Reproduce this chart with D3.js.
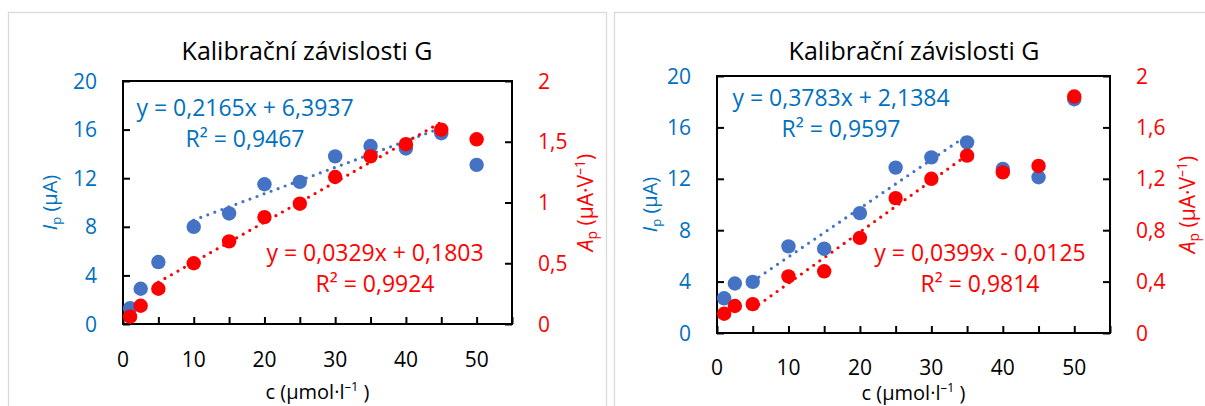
<!DOCTYPE html>
<html><head><meta charset="utf-8">
<script src="https://cdn.jsdelivr.net/npm/d3@7"></script>
<style>
body{margin:0;background:#fff;}
svg{display:block;font-family:"Open Sans",sans-serif;}
</style></head>
<body><svg id="c" width="1205" height="406"></svg>
<script>
// ---- data ----
const concentrations = [1, 2.5, 5, 10, 15, 20, 25, 30, 35, 40, 45, 50];
const ipLeft  = [1.3, 2.9, 5.1, 8.0, 9.1, 11.5, 11.7, 13.8, 14.65, 14.45, 15.7, 13.1];
const apLeft  = [0.06, 0.15, 0.29, 0.50, 0.68, 0.88, 0.99, 1.21, 1.38, 1.48, 1.60, 1.52];
const ipRight = [2.7, 3.85, 3.98, 6.74, 6.56, 9.33, 12.87, 13.67, 14.83, 12.77, 12.12, 18.19];
const apRight = [0.15, 0.21, 0.225, 0.44, 0.48, 0.74, 1.05, 1.20, 1.38, 1.25, 1.30, 1.84];

const xTickValues = [0, 5, 10, 15, 20, 25, 30, 35, 40, 45, 50, 55];
const xTickLabels = ["0", "", "10", "", "20", "", "30", "", "40", "", "50", ""];
const ipTicks = [0, 4, 8, 12, 16, 20];
const apTicksLeft = [0, 0.5, 1, 1.5, 2];
const apTicksRight = [0, 0.4, 0.8, 1.2, 1.6, 2];

// trendline: [slope, intercept, xFrom, xTo]
const ipTrendLeft  = [0.2165, 6.3937, 10, 45];
const apTrendLeft  = [0.0329, 0.1803, 5, 45];
const ipTrendRight = [0.3783, 2.1384, 5, 35];
const apTrendRight = [0.0399, -0.0125, 5, 35];

const ipEqLeft  = ["y = 0,2165x + 6,3937", "R² = 0,9467"];
const apEqLeft  = ["y = 0,0329x + 0,1803", "R² = 0,9924"];
const ipEqRight = ["y = 0,3783x + 2,1384", "R² = 0,9597"];
const apEqRight = ["y = 0,0399x - 0,0125", "R² = 0,9814"];

const titleText = "Kalibrační závislosti G";

// ---- styles ----
const BLUE = "#4472C4", BLUE_TXT = "#0070C0", RED = "#FF0000";
const svg = d3.select("#c");
const fmt = v => String(v).replace(".", ",");

function drawPanel(o) {
  svg.append("rect").attr("x", o.panel[0] + 0.5).attr("y", o.panel[1] + 0.5)
    .attr("width", o.panel[2]).attr("height", o.panel[3])
    .attr("fill", "#fff").attr("stroke", "#D9D9D9").attr("stroke-width", 1.3);

  const x = d3.scaleLinear().domain([0, 55]).range([o.L, o.R]);
  const yL = d3.scaleLinear().domain([0, 20]).range([o.B, o.T]);
  const yR = d3.scaleLinear().domain([0, 2]).range([o.B, o.T]);
  const g = svg.append("g");

  // title
  g.append("text").attr("x", o.panel[0] + o.panel[2] / 2).attr("y", o.titleY)
    .attr("text-anchor", "middle").attr("font-size", 25).attr("fill", "#000").text(titleText);

  // axes (ticks inward)
  const axB = d3.axisTop(x).tickValues(xTickValues).tickSize(7).tickFormat("");
  const axL = d3.axisRight(yL).tickValues(ipTicks).tickSize(7).tickFormat("");
  const axR = d3.axisLeft(yR).tickValues(o.apTicks).tickSize(7).tickFormat("");
  [g.append("g").attr("transform", `translate(0,${o.B})`).call(axB),
   g.append("g").attr("transform", `translate(${o.L},0)`).call(axL),
   g.append("g").attr("transform", `translate(${o.R},0)`).call(axR)].forEach(a => {
     a.selectAll("path").remove();
     a.selectAll("line").attr("stroke", "#000").attr("stroke-width", 2);
  });
  g.append("rect").attr("x", o.L).attr("y", o.T).attr("width", o.R - o.L).attr("height", o.B - o.T)
    .attr("fill", "none").attr("stroke", "#000").attr("stroke-width", 2);

  // tick labels
  g.selectAll(null).data(xTickValues.map((v, i) => [v, xTickLabels[i]]).filter(d => d[1])).enter()
    .append("text").attr("x", d => x(d[0])).attr("y", o.B + o.xLabDy).attr("text-anchor", "middle")
    .attr("font-size", 21).attr("fill", "#000").text(d => d[1]);
  g.selectAll(null).data(ipTicks).enter().append("text")
    .attr("x", o.L - 26).attr("y", d => yL(d) + 7.5).attr("text-anchor", "end")
    .attr("font-size", 21).attr("fill", BLUE_TXT).text(d => d);
  g.selectAll(null).data(o.apTicks).enter().append("text")
    .attr("x", o.R + 26).attr("y", d => yR(d) + 7.5).attr("text-anchor", "start")
    .attr("font-size", 21).attr("fill", RED).text(fmt);

  // axis titles
  const xt = g.append("text").attr("x", (o.L + o.R) / 2).attr("y", o.xTitleY)
    .attr("text-anchor", "middle").attr("font-size", 20).attr("fill", "#000");
  xt.append("tspan").text("c (µmol·l");
  xt.append("tspan").attr("font-size", 13).attr("dy", -8).text("–1");
  xt.append("tspan").attr("dy", 8).text(" )");

  const midY = (o.T + o.B) / 2;
  const yt = g.append("text").attr("transform", `translate(${o.ylX},${midY}) rotate(-90)`)
    .attr("text-anchor", "middle").attr("font-size", 20).attr("fill", BLUE_TXT);
  yt.append("tspan").attr("font-style", "italic").text("I");
  yt.append("tspan").attr("font-size", 13).attr("dy", 4).text("p");
  yt.append("tspan").attr("dy", -4).text(" (µA)");

  const rt = g.append("text").attr("transform", `translate(${o.yrX},${midY}) rotate(-90)`)
    .attr("text-anchor", "middle").attr("font-size", 21).attr("fill", RED);
  rt.append("tspan").attr("font-style", "italic").text("A");
  rt.append("tspan").attr("font-size", 14).attr("dy", 4).text("p");
  rt.append("tspan").attr("dy", -4).text(" (µA·V");
  rt.append("tspan").attr("font-size", 14).attr("dy", -8).text("–1");
  rt.append("tspan").attr("dy", 8).text(")");

  // trendlines
  const trend = (t, ys, col) => {
    const pts = [t[2], t[3]].map(v => [x(v), ys(t[0] * v + t[1])]);
    g.append("path").attr("d", d3.line()(pts)).attr("fill", "none").attr("stroke", col)
      .attr("stroke-width", 3.2).attr("stroke-linecap", "round").attr("stroke-dasharray", "0 7.5");
  };
  trend(o.ipTrend, yL, BLUE);
  trend(o.apTrend, yR, RED);

  // markers
  g.selectAll(null).data(concentrations.map((c, i) => [c, o.ip[i]])).enter().append("circle")
    .attr("cx", d => x(d[0])).attr("cy", d => yL(d[1])).attr("r", 7.2).attr("fill", BLUE);
  g.selectAll(null).data(concentrations.map((c, i) => [c, o.ap[i]])).enter().append("circle")
    .attr("cx", d => x(d[0])).attr("cy", d => yR(d[1])).attr("r", 7.2).attr("fill", RED);

  // equations
  const eq = (lines, cx, y0, col) => lines.forEach((s, i) =>
    g.append("text").attr("x", cx).attr("y", y0 + i * 31).attr("text-anchor", "middle")
      .attr("font-size", 23).attr("fill", col).text(s));
  eq(o.ipEq, o.ipEqPos[0], o.ipEqPos[1], BLUE_TXT);
  eq(o.apEq, o.apEqPos[0], o.apEqPos[1], RED);
}

drawPanel({
  panel: [8, 12, 598, 420], L: 123, R: 512, T: 81, B: 324, titleY: 60,
  xLabDy: 43, xTitleY: 399, ylX: 57, yrX: 593, apTicks: apTicksLeft,
  ip: ipLeft, ap: apLeft, ipTrend: ipTrendLeft, apTrend: apTrendLeft,
  ipEq: ipEqLeft, apEq: apEqLeft, ipEqPos: [245, 116], apEqPos: [375, 261]
});
drawPanel({
  panel: [614, 12, 600, 420], L: 717, R: 1110, T: 76, B: 333, titleY: 60,
  xLabDy: 42, xTitleY: 400, ylX: 657, yrX: 1195, apTicks: apTicksRight,
  ip: ipRight, ap: apRight, ipTrend: ipTrendRight, apTrend: apTrendRight,
  ipEq: ipEqRight, apEq: apEqRight, ipEqPos: [841, 106], apEqPos: [980, 261]
});
</script></body></html>
